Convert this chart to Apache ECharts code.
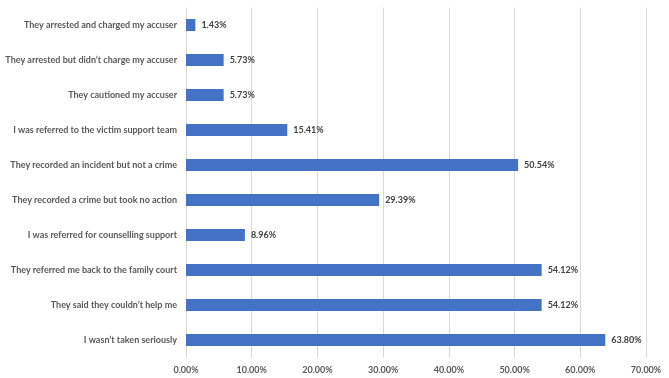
<!DOCTYPE html>
<html><head><meta charset="utf-8">
<script src="https://cdn.jsdelivr.net/npm/echarts@6/dist/echarts.min.js"></script>
<style>html,body{margin:0;padding:0;background:#fff}#c{width:669px;height:378px}</style>
</head><body><div id="c"></div>
<script>
const categories = [
  "They arrested and charged my accuser",
  "They arrested but didn\u2019t charge my accuser",
  "They cautioned my accuser",
  "I was referred to the victim support team",
  "They recorded an incident but not a crime",
  "They recorded a crime but took no action",
  "I was referred for counselling support",
  "They referred me back to the family court",
  "They said they couldn\u2019t help me",
  "I wasn\u2019t taken seriously"
];
const values = [1.43, 5.73, 5.73, 15.41, 50.54, 29.39, 8.96, 54.12, 54.12, 63.80];
const axisMin = 0, axisMax = 70, axisStep = 10;

const chart = echarts.init(document.getElementById('c'));
const font = 'Lato, "Open Sans", sans-serif';
chart.setOption({
  animation: false,
  grid: {left: 186, right: 23, top: 7.5, bottom: 20.5, containLabel: false},
  xAxis: {
    type: 'value', min: axisMin, max: axisMax, interval: axisStep,
    axisLine: {show: false}, axisTick: {show: false},
    splitLine: {lineStyle: {color: '#d9d9d9', width: 1}},
    axisLabel: {formatter: v => v.toFixed(2) + '%', color: '#595959', fontFamily: font, fontSize: 9, fontWeight: 'bold', margin: 8}
  },
  yAxis: {
    type: 'category', data: categories, inverse: true,
    axisLine: {show: false}, axisTick: {show: false},
    axisLabel: {color: '#595959', fontFamily: font, fontSize: 9, fontWeight: 'bold', margin: 9}
  },
  series: [{
    type: 'bar', data: values, barWidth: 12,
    itemStyle: {color: '#4472c4'},
    label: {show: true, position: 'right', distance: 6, formatter: p => p.value.toFixed(2) + '%', color: '#404040', fontFamily: font, fontSize: 9, fontWeight: 'bold'}
  }]
});
</script></body></html>
